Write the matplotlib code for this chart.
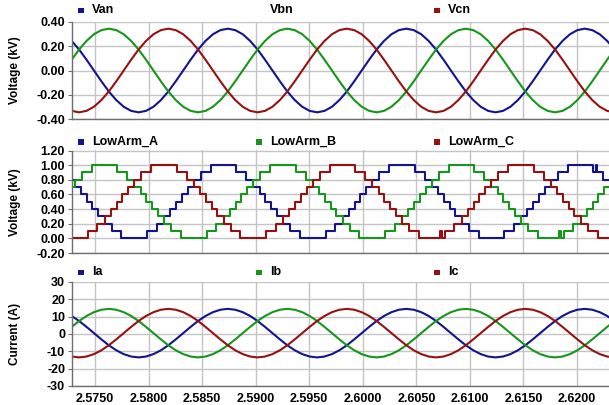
import numpy as np
import matplotlib
matplotlib.use("Agg")
import matplotlib.pyplot as plt
from matplotlib.patches import Rectangle
from matplotlib.ticker import FormatStrFormatter

plt.rcParams['font.family'] = ['Liberation Sans', 'DejaVu Sans']
plt.rcParams['font.weight'] = 'bold'

BLUE = '#14148f'
GREEN = '#16961a'
RED = '#961212'

# sample times for the sinusoidal traces (one sample every 15 deg at 60 Hz)
t_sine = 2.5874 + np.arange(-21, 53) / 1440.0

# phase voltages (kV)
van = [0.244, 0.173, 0.089, 0.0, -0.089, -0.173, -0.244, -0.299, -0.333, -0.345, -0.333,
       -0.299, -0.244, -0.173, -0.089, 0.0, 0.089, 0.173, 0.244, 0.299, 0.333,
       0.345, 0.333, 0.299, 0.244, 0.173, 0.089, 0.0, -0.089, -0.173, -0.244, -0.299, -0.333,
       -0.345, -0.333, -0.299, -0.244, -0.173, -0.089, 0.0, 0.089, 0.173, 0.244, 0.299, 0.333,
       0.345, 0.333, 0.299, 0.244, 0.173, 0.089, 0.0, -0.089, -0.173, -0.244, -0.299, -0.333,
       -0.345, -0.333, -0.299, -0.244, -0.173, -0.089, 0.0, 0.089, 0.173, 0.244, 0.299, 0.333,
       0.345, 0.333, 0.299, 0.244, 0.173]
vbn = [0.089, 0.173, 0.244, 0.299, 0.333,
       0.345, 0.333, 0.299, 0.244, 0.173, 0.089, 0.0, -0.089, -0.173, -0.244, -0.299, -0.333,
       -0.345, -0.333, -0.299, -0.244, -0.173, -0.089, 0.0, 0.089, 0.173, 0.244, 0.299, 0.333,
       0.345, 0.333, 0.299, 0.244, 0.173, 0.089, 0.0, -0.089, -0.173, -0.244, -0.299, -0.333,
       -0.345, -0.333, -0.299, -0.244, -0.173, -0.089, 0.0, 0.089, 0.173, 0.244, 0.299, 0.333,
       0.345, 0.333, 0.299, 0.244, 0.173, 0.089, 0.0, -0.089, -0.173, -0.244, -0.299, -0.333,
       -0.345, -0.333, -0.299, -0.244, -0.173, -0.089, 0.0, 0.089, 0.173]
vcn = [-0.333, -0.345, -0.333, -0.299, -0.244, -0.173, -0.089, 0.0, 0.089, 0.173, 0.244, 0.299, 0.333,
       0.345, 0.333, 0.299, 0.244, 0.173, 0.089, 0.0, -0.089, -0.173, -0.244, -0.299, -0.333,
       -0.345, -0.333, -0.299, -0.244, -0.173, -0.089, 0.0, 0.089, 0.173, 0.244, 0.299, 0.333,
       0.345, 0.333, 0.299, 0.244, 0.173, 0.089, 0.0, -0.089, -0.173, -0.244, -0.299, -0.333,
       -0.345, -0.333, -0.299, -0.244, -0.173, -0.089, 0.0, 0.089, 0.173, 0.244, 0.299, 0.333,
       0.345, 0.333, 0.299, 0.244, 0.173, 0.089, 0.0, -0.089, -0.173, -0.244, -0.299, -0.333, -0.345]

# phase currents (A)
ia = [10.4, 7.5, 4.1, 0.5, -3.1, -6.5, -9.4, -11.6, -13.0, -13.5, -13.0,
      -11.6, -9.4, -6.5, -3.1, 0.5, 4.1, 7.5, 10.4, 12.6, 14.0,
      14.5, 14.0, 12.6, 10.4, 7.5, 4.1, 0.5, -3.1, -6.5, -9.4, -11.6, -13.0,
      -13.5, -13.0, -11.6, -9.4, -6.5, -3.1, 0.5, 4.1, 7.5, 10.4, 12.6, 14.0,
      14.5, 14.0, 12.6, 10.4, 7.5, 4.1, 0.5, -3.1, -6.5, -9.4, -11.6, -13.0,
      -13.5, -13.0, -11.6, -9.4, -6.5, -3.1, 0.5, 4.1, 7.5, 10.4, 12.6, 14.0,
      14.5, 14.0, 12.6, 10.4, 7.5]
ib = [4.1, 7.5, 10.4, 12.6, 14.0,
      14.5, 14.0, 12.6, 10.4, 7.5, 4.1, 0.5, -3.1, -6.5, -9.4, -11.6, -13.0,
      -13.5, -13.0, -11.6, -9.4, -6.5, -3.1, 0.5, 4.1, 7.5, 10.4, 12.6, 14.0,
      14.5, 14.0, 12.6, 10.4, 7.5, 4.1, 0.5, -3.1, -6.5, -9.4, -11.6, -13.0,
      -13.5, -13.0, -11.6, -9.4, -6.5, -3.1, 0.5, 4.1, 7.5, 10.4, 12.6, 14.0,
      14.5, 14.0, 12.6, 10.4, 7.5, 4.1, 0.5, -3.1, -6.5, -9.4, -11.6, -13.0,
      -13.5, -13.0, -11.6, -9.4, -6.5, -3.1, 0.5, 4.1, 7.5]
ic = [-13.0, -13.5, -13.0, -11.6, -9.4, -6.5, -3.1, 0.5, 4.1, 7.5, 10.4, 12.6, 14.0,
      14.5, 14.0, 12.6, 10.4, 7.5, 4.1, 0.5, -3.1, -6.5, -9.4, -11.6, -13.0,
      -13.5, -13.0, -11.6, -9.4, -6.5, -3.1, 0.5, 4.1, 7.5, 10.4, 12.6, 14.0,
      14.5, 14.0, 12.6, 10.4, 7.5, 4.1, 0.5, -3.1, -6.5, -9.4, -11.6, -13.0,
      -13.5, -13.0, -11.6, -9.4, -6.5, -3.1, 0.5, 4.1, 7.5, 10.4, 12.6, 14.0,
      14.5, 14.0, 12.6, 10.4, 7.5, 4.1, 0.5, -3.1, -6.5, -9.4, -11.6, -13.0, -13.5]

# lower arm voltages (kV): switching instants and level held after each
lowA_t = [2.5725, 2.57311, 2.57369, 2.57423, 2.57476, 2.57531, 2.57589, 2.57656, 2.57747,
          2.57986, 2.58078, 2.58144, 2.58203, 2.58257, 2.58310, 2.58364, 2.58422, 2.58489, 2.58580,
          2.58820, 2.58911, 2.58978, 2.59036, 2.59090, 2.59143, 2.59198, 2.59256, 2.59322, 2.59414,
          2.59653, 2.59745, 2.59811, 2.59870, 2.59924, 2.59977, 2.60031, 2.60089, 2.60156, 2.60247,
          2.60487, 2.60578, 2.60645, 2.60703, 2.60757, 2.60810, 2.60865, 2.60923, 2.60989, 2.61081,
          2.61319, 2.61411, 2.61477, 2.61536, 2.61590, 2.61643, 2.61697, 2.61755, 2.61822, 2.61913,
          2.62153, 2.62175, 2.62190, 2.62244, 2.62311, 2.6235]
lowA_v = [0.8, 0.7, 0.6, 0.5, 0.4, 0.3, 0.2, 0.1, 0.0,
          0.1, 0.2, 0.3, 0.4, 0.5, 0.6, 0.7, 0.8, 0.9, 1.0,
          0.9, 0.8, 0.7, 0.6, 0.5, 0.4, 0.3, 0.2, 0.1, 0.0,
          0.1, 0.2, 0.3, 0.4, 0.5, 0.6, 0.7, 0.8, 0.9, 1.0,
          0.9, 0.8, 0.7, 0.6, 0.5, 0.4, 0.3, 0.2, 0.1, 0.0,
          0.1, 0.2, 0.3, 0.4, 0.5, 0.6, 0.7, 0.8, 0.9, 1.0,
          0.9, 1.0, 0.9, 0.8, 0.7, 0.7]
lowB_t = [2.5725, 2.57253, 2.57311, 2.57378, 2.57469,
          2.57709, 2.57800, 2.57867, 2.57925, 2.57979, 2.58032, 2.58086, 2.58145, 2.58211, 2.58303,
          2.58542, 2.58633, 2.58700, 2.58758, 2.58812, 2.58866, 2.58920, 2.58978, 2.59045, 2.59136,
          2.59375, 2.59467, 2.59533, 2.59591, 2.59646, 2.59699, 2.59753, 2.59811, 2.59878, 2.59969,
          2.60209, 2.60300, 2.60367, 2.60425, 2.60479, 2.60532, 2.60586, 2.60644, 2.60711, 2.60803,
          2.61042, 2.61133, 2.61200, 2.61258, 2.61312, 2.61365, 2.61420, 2.61478, 2.61545, 2.61636,
          2.61830, 2.61850,
          2.61875, 2.61967, 2.62033, 2.62091, 2.62146, 2.62199, 2.62253, 2.62311, 2.6235]
lowB_v = [0.6, 0.7, 0.8, 0.9, 1.0,
          0.9, 0.8, 0.7, 0.6, 0.5, 0.4, 0.3, 0.2, 0.1, 0.0,
          0.1, 0.2, 0.3, 0.4, 0.5, 0.6, 0.7, 0.8, 0.9, 1.0,
          0.9, 0.8, 0.7, 0.6, 0.5, 0.4, 0.3, 0.2, 0.1, 0.0,
          0.1, 0.2, 0.3, 0.4, 0.5, 0.6, 0.7, 0.8, 0.9, 1.0,
          0.9, 0.8, 0.7, 0.6, 0.5, 0.4, 0.3, 0.2, 0.1, 0.0,
          0.1, 0.0,
          0.1, 0.2, 0.3, 0.4, 0.5, 0.6, 0.7, 0.8, 0.8]
lowC_t = [2.5725,
          2.57431, 2.57522, 2.57589, 2.57647, 2.57701, 2.57754, 2.57809, 2.57867, 2.57933, 2.58025,
          2.58264, 2.58355, 2.58422, 2.58480, 2.58535, 2.58588, 2.58642, 2.58700, 2.58767, 2.58858,
          2.59097, 2.59189, 2.59256, 2.59314, 2.59368, 2.59421, 2.59475, 2.59533, 2.59600, 2.59692,
          2.59931, 2.60022, 2.60089, 2.60147, 2.60201, 2.60254, 2.60309, 2.60367, 2.60434, 2.60525,
          2.60720, 2.60740,
          2.60764, 2.60855, 2.60922, 2.60980, 2.61035, 2.61088, 2.61142, 2.61200, 2.61267, 2.61358,
          2.61597, 2.61689, 2.61756, 2.61814, 2.61868, 2.61921, 2.61975, 2.62033, 2.62100, 2.62192,
          2.6235]
lowC_v = [0.0,
          0.1, 0.2, 0.3, 0.4, 0.5, 0.6, 0.7, 0.8, 0.9, 1.0,
          0.9, 0.8, 0.7, 0.6, 0.5, 0.4, 0.3, 0.2, 0.1, 0.0,
          0.1, 0.2, 0.3, 0.4, 0.5, 0.6, 0.7, 0.8, 0.9, 1.0,
          0.9, 0.8, 0.7, 0.6, 0.5, 0.4, 0.3, 0.2, 0.1, 0.0,
          0.1, 0.0,
          0.1, 0.2, 0.3, 0.4, 0.5, 0.6, 0.7, 0.8, 0.9, 1.0,
          0.9, 0.8, 0.7, 0.6, 0.5, 0.4, 0.3, 0.2, 0.1, 0.0,
          0.0]

x_ticks = [2.5750, 2.5800, 2.5850, 2.5900, 2.5950, 2.6000, 2.6050, 2.6100, 2.6150, 2.6200]

W, H = 609, 405
fig = plt.figure(figsize=(W / 100, H / 100), dpi=100)


def px_axes(top, bottom):
    return fig.add_axes([72 / W, 1 - bottom / H, (W - 72) / W, (bottom - top) / H])


ax1 = px_axes(22, 119)
ax2 = px_axes(150.5, 253)
ax3 = px_axes(282, 386)

ax1.plot(t_sine, van, color=BLUE, lw=1.5)
ax1.plot(t_sine, vbn, color=GREEN, lw=1.5)
ax1.plot(t_sine, vcn, color=RED, lw=1.5)

ax2.step(lowA_t, lowA_v, where='post', color=BLUE, lw=1.5)
ax2.step(lowB_t, lowB_v, where='post', color=GREEN, lw=1.5)
ax2.step(lowC_t, lowC_v, where='post', color=RED, lw=1.5)

ax3.plot(t_sine, ia, color=BLUE, lw=1.5)
ax3.plot(t_sine, ib, color=GREEN, lw=1.5)
ax3.plot(t_sine, ic, color=RED, lw=1.5)

setup = [
    (ax1, (-0.40, 0.40), [-0.4, -0.2, 0.0, 0.2, 0.4], '%.2f'),
    (ax2, (-0.20, 1.20), [-0.2, 0.0, 0.2, 0.4, 0.6, 0.8, 1.0, 1.2], '%.2f'),
    (ax3, (-30, 30), [-30, -20, -10, 0, 10, 20, 30], '%.0f'),
]
for ax, ylim, yt, fmt in setup:
    ax.set_xlim(2.57285, 2.62299)
    ax.set_ylim(*ylim)
    ax.set_yticks(yt)
    ax.yaxis.set_major_formatter(FormatStrFormatter(fmt))
    ax.set_xticks(x_ticks)
    ax.grid(True, color='#c4c4c4', lw=1.0)
    ax.set_axisbelow(True)
    for s in ['top', 'right']:
        ax.spines[s].set_visible(False)
    for s in ['left', 'bottom']:
        ax.spines[s].set_color('#6e6e6e')
        ax.spines[s].set_linewidth(1.0)
    ax.tick_params(axis='y', length=3, width=0.8, color='#6e6e6e', labelsize=9, pad=2)
    ax.tick_params(axis='x', length=0, labelsize=9, pad=5)

ax1.tick_params(axis='x', labelbottom=False)
ax2.tick_params(axis='x', labelbottom=False)
ax3.xaxis.set_major_formatter(FormatStrFormatter('%.4f'))

# y labels
for yc, txt in [(70, 'Voltage (kV)'), (202, 'Voltage (kV)'), (334, 'Current (A)')]:
    fig.text(15 / W, 1 - yc / H, txt, rotation=90, ha='center', va='center',
             fontsize=8.5, fontweight='bold')

# legend rows above each panel
legend_rows = [
    (10, [('Van', BLUE, True), ('Vbn', GREEN, False), ('Vcn', RED, True)]),
    (142, [('LowArm_A', BLUE, True), ('LowArm_B', GREEN, True), ('LowArm_C', RED, True)]),
    (272, [('Ia', BLUE, True), ('Ib', GREEN, True), ('Ic', RED, True)]),
]
for yc, items in legend_rows:
    for (name, col, box), x0 in zip(items, [78, 256, 434]):
        if box:
            fig.add_artist(Rectangle((x0 / W, 1 - (yc + 2.5) / H), 6 / W, 5 / H,
                                     transform=fig.transFigure, color=col, lw=0))
        fig.text((x0 + 14) / W, 1 - yc / H, name, ha='left', va='center',
                 fontsize=9, fontweight='bold')

fig.savefig('out.png', dpi=100)
